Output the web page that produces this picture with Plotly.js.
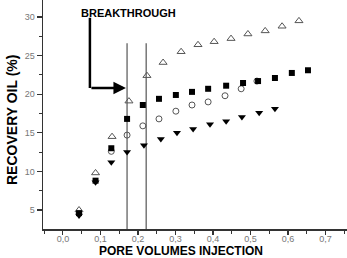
<!DOCTYPE html>
<html>
<head>
<meta charset="utf-8">
<script src="https://cdn.plot.ly/plotly-3.0.1.min.js"></script>
<style>html,body{margin:0;padding:0;background:#fff;}#chart{width:347px;height:258px;}</style>
</head>
<body>
<div id="chart"></div>
<script>
// Series: open triangles (up)
const triX = [0.043, 0.087, 0.131, 0.176, 0.224, 0.267, 0.315, 0.36, 0.403, 0.448, 0.493, 0.539, 0.584, 0.629];
const triY = [5.0, 9.8, 14.5, 19.1, 22.4, 24.1, 25.5, 26.4, 26.8, 27.2, 27.8, 28.2, 28.8, 29.5];
// Filled squares
const sqX = [0.043, 0.087, 0.129, 0.171, 0.213, 0.256, 0.301, 0.344, 0.387, 0.435, 0.48, 0.52, 0.565, 0.61, 0.653];
const sqY = [4.6, 8.8, 13.0, 16.8, 18.6, 19.4, 19.9, 20.3, 20.7, 21.1, 21.45, 21.7, 22.1, 22.75, 23.1];
// Open circles
const ciX = [0.129, 0.171, 0.213, 0.256, 0.301, 0.344, 0.387, 0.432, 0.475, 0.517];
const ciY = [12.6, 14.7, 15.9, 16.8, 17.8, 18.6, 19.0, 19.8, 20.7, 21.7];
// Filled down triangles
const dnX = [0.043, 0.087, 0.129, 0.171, 0.216, 0.261, 0.304, 0.347, 0.392, 0.435, 0.477, 0.523, 0.565];
const dnY = [4.3, 8.6, 11.2, 12.5, 13.4, 14.2, 15.0, 15.5, 16.1, 16.5, 17.05, 17.6, 18.1];
// Breakthrough lines
const breakX = [0.171, 0.222];
const breakTop = 26.6;
const arrowX = 0.072, arrowTop = 29.9, arrowY = 20.8;
const xTickVals = [0.0, 0.1, 0.2, 0.3, 0.4, 0.5, 0.6, 0.7];
const xTickText = ["0,0", "0,1", "0,2", "0,3", "0,4", "0,5", "0,6", "0,7"];
const yTickVals = [5, 10, 15, 20, 25, 30];
const yRange = [2.54, 32.2];
const xRange = [-0.053, 0.757];
const xTitle = 'PORE VOLUMES INJECTION';
const yTitle = 'RECOVERY OIL (%)';

const traces = [
  {x: triX, y: triY, type: 'scatter', mode: 'markers',
   marker: {symbol: 'triangle-up-open', size: 7, color: '#555', line: {width: 1, color: '#555'}}},
  {x: ciX, y: ciY, type: 'scatter', mode: 'markers',
   marker: {symbol: 'circle-open', size: 6, color: '#555', line: {width: 1, color: '#555'}}},
  {x: sqX, y: sqY, type: 'scatter', mode: 'markers',
   marker: {symbol: 'square', size: 6, color: '#000'}},
  {x: dnX, y: dnY, type: 'scatter', mode: 'markers',
   marker: {symbol: 'triangle-down', size: 7, color: '#000'}}
];

const shapes = breakX.map(v => ({type: 'line', xref: 'x', yref: 'y', x0: v, x1: v, y0: yRange[0], y1: breakTop,
  line: {color: '#777', width: 1.5}, layer: 'below'}));
shapes.push({type: 'line', xref: 'x', yref: 'y', x0: arrowX, x1: arrowX, y0: arrowTop, y1: arrowY,
  line: {color: '#000', width: 2.5}});

const layout = {
  width: 347, height: 258,
  margin: {l: 43, r: 0, t: 0, b: 29},
  paper_bgcolor: '#fff', plot_bgcolor: '#fff',
  showlegend: false,
  font: {family: 'Liberation Sans, Arial, sans-serif', color: '#000'},
  xaxis: {
    range: xRange, showgrid: false, zeroline: false,
    showline: true, linecolor: '#333', linewidth: 1.5,
    ticks: 'outside', ticklen: 4, tickwidth: 1.2, tickcolor: '#333',
    tickvals: xTickVals, ticktext: xTickText, ticklabelstandoff: -3,
    tickfont: {size: 9, color: '#777'},
    minor: {ticks: 'outside', ticklen: 3, tickwidth: 1, tickcolor: '#333', dtick: 0.05, tick0: 0.05}
  },
  yaxis: {
    range: yRange, showgrid: false, zeroline: false,
    showline: true, linecolor: '#333', linewidth: 1.5,
    ticks: 'outside', ticklen: 5, tickwidth: 1.2, tickcolor: '#333',
    tickvals: yTickVals,
    tickfont: {size: 9, color: '#777'},
    minor: {ticks: 'outside', ticklen: 3, tickwidth: 1, tickcolor: '#333', dtick: 2.5, tick0: 2.5}
  },
  shapes: shapes,
  annotations: [
    {x: 0.454, y: -0.098, xref: 'paper', yref: 'paper', text: xTitle, showarrow: false,
     xanchor: 'center', yanchor: 'middle', borderpad: 0,
     font: {size: 12, color: '#000', weight: 'bold'}},
    {x: -0.102, y: 0.476, xref: 'paper', yref: 'paper', text: yTitle, showarrow: false, textangle: -90,
     xanchor: 'center', yanchor: 'middle', font: {size: 14, color: '#000', weight: 'bold'}},
    {x: 0.043, y: 30.5, xref: 'x', yref: 'y', text: 'BREAKTHROUGH', showarrow: false,
     xanchor: 'left', yanchor: 'middle', font: {size: 11, color: '#000', weight: 'bold'}},
    {x: 0.168, y: arrowY, xref: 'x', yref: 'y', ax: arrowX, ay: arrowY, axref: 'x', ayref: 'y',
     text: '', showarrow: true, arrowhead: 2, arrowsize: 1, arrowwidth: 2.5, arrowcolor: '#000'}
  ]
};

Plotly.newPlot('chart', traces, layout, {staticPlot: true, displayModeBar: false});
</script>
</body>
</html>
